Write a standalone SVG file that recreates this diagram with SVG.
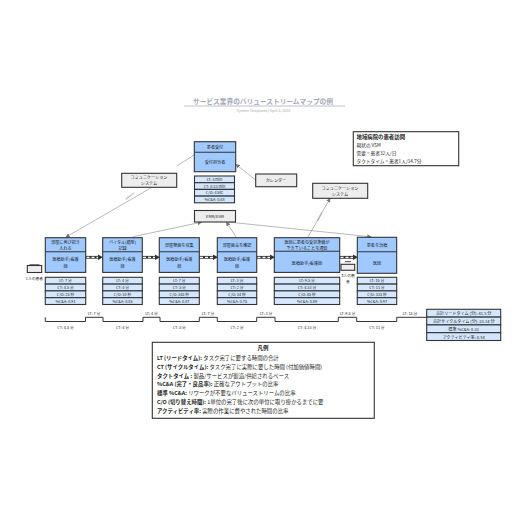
<svg xmlns="http://www.w3.org/2000/svg" width="516" height="516" viewBox="0 0 516 516">
<defs>
<marker id="ah" viewBox="0 0 6 6" refX="5" refY="3" markerWidth="4.5" markerHeight="4.5" orient="auto" markerUnits="userSpaceOnUse"><path d="M0 0L6 3L0 6Z" fill="#777"/></marker>
</defs>
<style>
text{font-family:"Noto Sans CJK JP","Liberation Sans",sans-serif;fill:#222;text-anchor:middle;dominant-baseline:central}
.p{fill:#9fc9ff;stroke:#333;stroke-width:1.1}
.d{fill:#d4e7ff;stroke:#333;stroke-width:1.1}
.g{fill:#ededed;stroke:#333;stroke-width:1.1}
.w{fill:#fff;stroke:#333;stroke-width:1.1}
.n{font-size:4.1px}
.s{font-size:3.8px}
.l{font-size:5.4px;text-anchor:start}
.b{font-weight:700}
.c{fill:none;stroke:#999;stroke-width:.7}
.ps{fill:none;stroke:#333;stroke-width:2.8}
.pw{fill:none;stroke:#fff;stroke-width:1.3;stroke-dasharray:3 2}
.tl{fill:none;stroke:#333;stroke-width:1}
</style>
<g id="title">
<text x="263" y="101" font-size="6.7" style="fill:#a3a9b5" font-weight="700">サービス業界のバリューストリームマップの例</text>
<path d="M184 106H345" stroke="#a9b0bd" stroke-width=".8"/>
<text x="263.500" y="110.500" font-size="3.600" style="fill:#aaa">System Templates | April 5, 2025</text>
</g>
<g id="connectors">
<path class="c" d="M194.300 155L176.700 166"/>
<path class="c" d="M152 187.300L66 237" marker-end="url(#ah)"/>
<path d="M126 199L134 193" stroke="#999" stroke-width="1.600" stroke-dasharray=".6 .6" fill="none"/>
<path class="c" d="M255.700 180L236 164.500" marker-end="url(#ah)"/>
<path class="c" d="M133 236.700L201.500 222.200" marker-end="url(#ah)"/>
<path class="c" d="M236 237L226.500 222.200" marker-end="url(#ah)"/>
<path class="c" d="M228 222L371 236.800" marker-end="url(#ah)"/>
<path class="c" d="M308 237L330 198.500" marker-end="url(#ah)"/>
<path d="M317.500 220.500L322 212.500" stroke="#999" stroke-width="1.600" stroke-dasharray=".6 .6" fill="none"/>
<g id="push-arrows">
<path class="ps" d="M85.700 257.300H99"/><path class="pw" d="M86.500 257.300H99"/><path d="M98 254.500L103 257.300L98 260Z" fill="#333"/>
<path class="ps" d="M142.300 257.300H156"/><path class="pw" d="M143 257.300H156"/><path d="M155 254.500L160 257.300L155 260Z" fill="#333"/>
<path class="ps" d="M199.300 257.300H214"/><path class="pw" d="M200 257.300H214"/><path d="M213 254.500L218 257.300L213 260Z" fill="#333"/>
<path class="ps" d="M256.700 257.300H271"/><path class="pw" d="M257.500 257.300H271"/><path d="M270 254.500L275 257.300L270 260Z" fill="#333"/>
<path class="ps" d="M339.700 257.300H354"/><path class="pw" d="M340.500 257.300H354"/><path d="M353 254.500L358 257.300L353 260Z" fill="#333"/>
</g>
<path id="timeline" class="tl" d="M45.300 317.300V321.500H85.500V317.300H103V321.500H143V317.300H160V321.500H199.300V317.300H217.300V321.500H256.700V317.300H275V321.500H338.300V317.300H356.700V321.500H396.700V317.300H426.700"/>
</g>
<g id="intake">
<rect class="p" x="194.300" y="141.700" width="41.400" height="30"/><path class="p" d="M194.300 152.300H235.700"/>
<text class="n" x="215" y="147">患者受付</text><text class="n" x="215" y="162">受付担当者</text>
</g>
<g id="intake-data">
<rect class="d" x="194.500" y="176" width="40" height="6.700"/><rect class="d" x="194.500" y="182.700" width="40" height="6.700"/><rect class="d" x="194.500" y="189.400" width="40" height="6.700"/><rect class="d" x="194.500" y="196.100" width="40" height="6.700"/>
<text class="s" x="214.500" y="179.400">LT: 4 min</text><text class="s" x="214.500" y="186">CT: 0.33 min</text><text class="s" x="214.500" y="192.800">C/O: 4 sec</text><text class="s" x="214.500" y="199.500">%C&amp;A: 0.88</text>
</g>
<g id="emr"><rect class="g" x="194.500" y="210.500" width="41" height="11.500"/><text class="n" x="215" y="216.200">EMR/EHR</text></g>
<g id="calendar"><rect class="g" x="255.700" y="174" width="41" height="12.700"/><text class="n" x="276" y="180.300">カレンダー</text></g>
<g id="comm1"><rect class="g" x="121.700" y="173.300" width="55" height="14"/><text class="n" x="149" y="177.200">コミュニケーション</text><text class="n" x="149" y="183.300">システム</text></g>
<g id="comm2"><rect class="g" x="312.700" y="183.300" width="55" height="15"/><text class="n" x="340" y="188">コミュニケーション</text><text class="n" x="340" y="194">システム</text></g>
<g id="info">
<rect class="w" x="353.300" y="131.700" width="105.400" height="34"/>
<text class="l b" x="356.500" y="136.800">地域病院の患者訪問</text>
<text class="l" x="356.500" y="145" style="font-size:4.700px">現状の VSM</text>
<text class="l" x="356.500" y="152.700" style="font-size:4.700px">需要 = 患者32人/日</text>
<text class="l" x="356.500" y="160.800" style="font-size:4.700px">タクトタイム = 患者1人/14.7分</text>
</g>
<g id="p1">
<rect class="p" x="45.300" y="237.700" width="40.400" height="34.700"/><path class="p" d="M45.300 251.700H85.700"/>
<text class="n" x="65.500" y="241.500">部屋に再び招き</text><text class="n" x="65.500" y="247.500">入れる</text><text class="n" x="65.500" y="259">医療助手/看護</text><text class="n" x="65.500" y="265.500">師</text>
</g>
<g id="p2">
<rect class="p" x="102.700" y="237.700" width="39.600" height="34.700"/><path class="p" d="M102.700 251.700H142.300"/>
<text class="n" x="122.500" y="241.500">バイタル(顔型)</text><text class="n" x="122.500" y="247.500">記録</text><text class="n" x="122.500" y="259">医療助手/看護</text><text class="n" x="122.500" y="265.500">師</text>
</g>
<g id="p3">
<rect class="p" x="159.300" y="237.700" width="40" height="34.700"/><path class="p" d="M159.300 251.700H199.300"/>
<text class="n" x="179.300" y="244.800">部屋壁面を収集</text><text class="n" x="179.300" y="259">医療助手/看護</text><text class="n" x="179.300" y="265.500">師</text>
</g>
<g id="p4">
<rect class="p" x="217.300" y="237.700" width="39.400" height="34.700"/><path class="p" d="M217.300 251.700H256.700"/>
<text class="n" x="237" y="244.800">部屋面会を確認</text><text class="n" x="237" y="259">医療助手/看護</text><text class="n" x="237" y="265.500">師</text>
</g>
<g id="p5">
<rect class="p" x="274.300" y="237.700" width="65.400" height="34.700"/><path class="p" d="M274.300 251.300H339.700"/>
<text class="n" x="307" y="241.500">医師に患者の受診準備が</text><text class="n" x="307" y="248">できていることを通知</text><text class="n" x="307" y="263">医療助手/看護師</text>
</g>
<g id="p6">
<rect class="p" x="357.300" y="237.300" width="39.400" height="36"/><path class="p" d="M357.300 251.700H396.700"/>
<text class="n" x="377" y="245">患者を治療</text><text class="n" x="377" y="263">医師</text>
</g>
<g id="d1">
<rect class="d" x="45.300" y="277.300" width="40.400" height="6.800"/><rect class="d" x="45.300" y="284.100" width="40.400" height="6.800"/><rect class="d" x="45.300" y="290.900" width="40.400" height="6.800"/><rect class="d" x="45.300" y="297.700" width="40.400" height="6.800"/>
<text class="s" x="65.500" y="280.700">LT: 7 分</text><text class="s" x="65.500" y="287.500">CT: 4.5 分</text><text class="s" x="65.500" y="294.300">C/O: 25 秒</text><text class="s" x="65.500" y="301.100">%C&amp;A: 0.91</text>
</g>
<g id="d2">
<rect class="d" x="102.700" y="277.300" width="39.600" height="6.800"/><rect class="d" x="102.700" y="284.100" width="39.600" height="6.800"/><rect class="d" x="102.700" y="290.900" width="39.600" height="6.800"/><rect class="d" x="102.700" y="297.700" width="39.600" height="6.800"/>
<text class="s" x="122.500" y="280.700">LT: 4 分</text><text class="s" x="122.500" y="287.500">CT: 4 分</text><text class="s" x="122.500" y="294.300">C/O: 30 秒</text><text class="s" x="122.500" y="301.100">%C&amp;A: 0.85</text>
</g>
<g id="d3">
<rect class="d" x="159.300" y="277.300" width="40" height="6.800"/><rect class="d" x="159.300" y="284.100" width="40" height="6.800"/><rect class="d" x="159.300" y="290.900" width="40" height="6.800"/><rect class="d" x="159.300" y="297.700" width="40" height="6.800"/>
<text class="s" x="179.300" y="280.700">LT: 7 分</text><text class="s" x="179.300" y="287.500">CT: 5 分</text><text class="s" x="179.300" y="294.300">C/O: 345 秒</text><text class="s" x="179.300" y="301.100">%C&amp;A: 0.87</text>
</g>
<g id="d4">
<rect class="d" x="217.300" y="277.300" width="39.400" height="6.800"/><rect class="d" x="217.300" y="284.100" width="39.400" height="6.800"/><rect class="d" x="217.300" y="290.900" width="39.400" height="6.800"/><rect class="d" x="217.300" y="297.700" width="39.400" height="6.800"/>
<text class="s" x="237" y="280.700">LT: 3 分</text><text class="s" x="237" y="287.500">CT: 2 分</text><text class="s" x="237" y="294.300">C/O: 34 秒</text><text class="s" x="237" y="301.100">%C&amp;A: 0.75</text>
</g>
<g id="d5">
<rect class="d" x="274.300" y="277.300" width="65.400" height="6.800"/><rect class="d" x="274.300" y="284.100" width="65.400" height="6.800"/><rect class="d" x="274.300" y="290.900" width="65.400" height="6.800"/><rect class="d" x="274.300" y="297.700" width="65.400" height="6.800"/>
<text class="s" x="307" y="280.700">LT: 9.5 分</text><text class="s" x="307" y="287.500">CT: 4.33 分</text><text class="s" x="307" y="294.300">C/O: 45 秒</text><text class="s" x="307" y="301.100">%C&amp;A: 0.89</text>
</g>
<g id="d6">
<rect class="d" x="357.300" y="277.300" width="39.400" height="6.800"/><rect class="d" x="357.300" y="284.100" width="39.400" height="6.800"/><rect class="d" x="357.300" y="290.900" width="39.400" height="6.800"/><rect class="d" x="357.300" y="297.700" width="39.400" height="6.800"/>
<text class="s" x="377" y="280.700">LT: 15 分</text><text class="s" x="377" y="287.500">CT: 11 分</text><text class="s" x="377" y="294.300">C/O: 333 秒</text><text class="s" x="377" y="301.100">%C&amp;A: 0.97</text>
</g>
<g id="patient-icon">
<rect class="w" x="27.300" y="265.500" width="14.400" height="7" style="fill:#ededed"/><path d="M29.500 265H39.500" stroke="#333" stroke-width="1.300"/>
<text class="s" x="34.500" y="278.700">1人の患者</text>
</g>
<g id="inventory-icon">
<rect class="w" x="341" y="264.300" width="13.700" height="6" style="fill:#ededed"/><path d="M345 261.700H351" stroke="#333" stroke-width=".9"/>
<text class="s" x="348" y="275">3人の患</text><text class="s" x="348" y="281">者</text>
</g>
<g id="timeline-labels">
<text class="s" x="94" y="313">LT: 7 分</text><text class="s" x="151.500" y="313">LT: 4 分</text><text class="s" x="208" y="313">LT: 7 分</text><text class="s" x="266" y="313">LT: 3 分</text><text class="s" x="347.500" y="313">LT: 9.5 分</text><text class="s" x="410" y="313">LT: 15 分</text>
<text class="s" x="65.500" y="327">CT: 4.5 分</text><text class="s" x="122.500" y="327">CT: 4 分</text><text class="s" x="179.300" y="327">CT: 5 分</text><text class="s" x="237" y="327">CT: 2 分</text><text class="s" x="307" y="327">CT: 4.33 分</text><text class="s" x="377" y="327">CT: 11 分</text>
</g>
<g id="summary">
<rect class="d" x="426.700" y="309.300" width="74" height="7.800"/><rect class="d" x="426.700" y="317.100" width="74" height="7.800"/><rect class="d" x="426.700" y="324.900" width="74" height="7.800"/><rect class="d" x="426.700" y="332.700" width="74" height="7.800"/>
<text class="n" x="463.700" y="313.200">合計リードタイム (分): 41.5 分</text><text class="n" x="463.700" y="321">合計サイクルタイム (分): 23.14 分</text><text class="n" x="463.700" y="328.800">標準 %C&amp;A: 0.31</text><text class="n" x="463.700" y="336.600">アクティビティ率: 0.54</text>
</g>
<g id="legend">
<rect class="w" x="152.300" y="342.300" width="222" height="76"/>
<text x="263" y="348.300" font-size="5.400" font-weight="700">凡例</text>
<text class="l" x="157" y="358.300"><tspan class="b">LT (リードタイム):</tspan> タスク完了に要する時間の合計</text>
<text class="l" x="157" y="366.800"><tspan class="b">CT (サイクルタイム):</tspan> タスク完了に実際に要した時間 (付加価値時間)</text>
<text class="l" x="157" y="375.700"><tspan class="b">タクトタイム :</tspan> 製品/サービスが製造/供給されるペース</text>
<text class="l" x="157" y="384.300"><tspan class="b">%C&amp;A (完了・良品率):</tspan> 正確なアウトプットの比率</text>
<text class="l" x="157" y="393"><tspan class="b">標準 %C&amp;A:</tspan> リワークが不要なバリューストリームの比率</text>
<text class="l" x="157" y="401.700"><tspan class="b">C/O (切り替え時間):</tspan> 1単位の完了後に次の単位に取り掛かるまでに要</text>
<text class="l" x="157" y="410.700"><tspan class="b">アクティビティ率:</tspan> 実際の作業に費やされた時間の比率</text>
</g>
</svg>
